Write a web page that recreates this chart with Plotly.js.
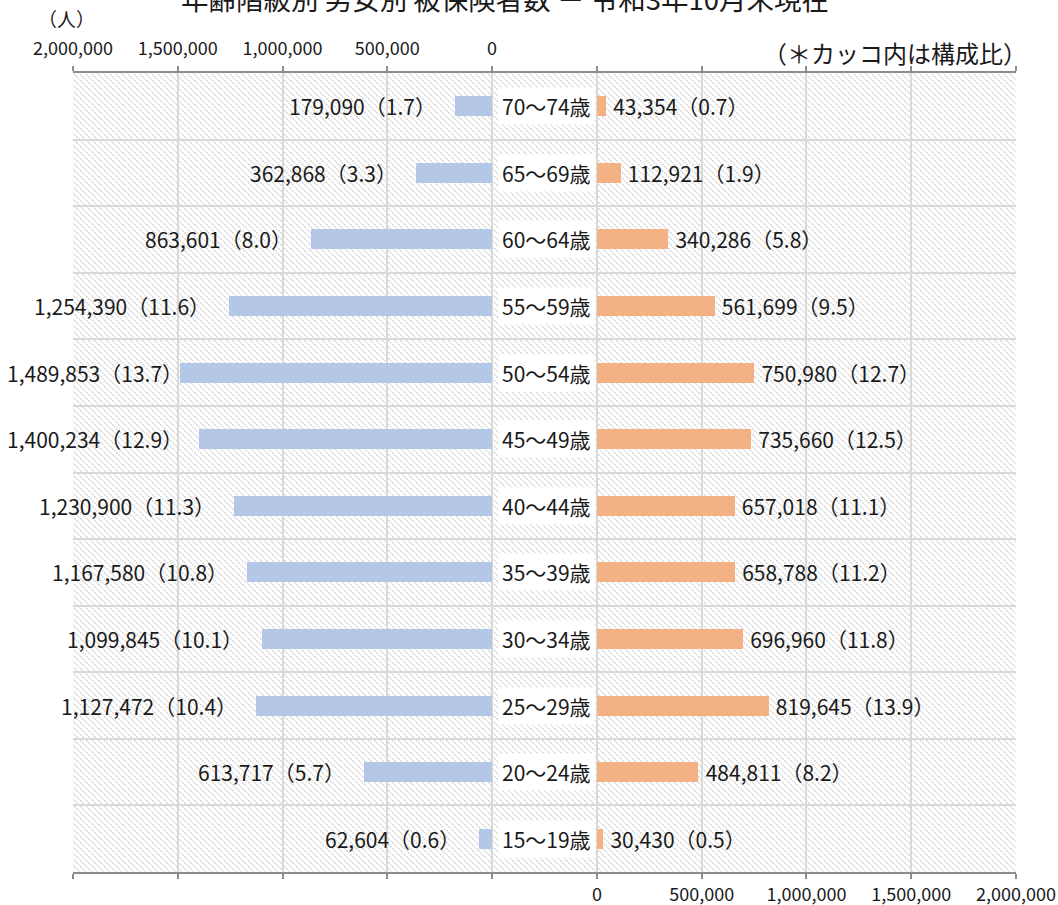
<!DOCTYPE html>
<html>
<head>
<meta charset="utf-8">
<script src="https://cdn.plot.ly/plotly-3.0.1.min.js"></script>
<style>
html,body{margin:0;padding:0;background:#fff;}
#chart{width:1058px;height:905px;}
</style>
</head>
<body>
<div id="chart"></div>
<script>
// Data (bottom to top)
const ageGroups = ["15～19歳","20～24歳","25～29歳","30～34歳","35～39歳","40～44歳","45～49歳","50～54歳","55～59歳","60～64歳","65～69歳","70～74歳"];
const maleCount = [62604, 613717, 1127472, 1099845, 1167580, 1230900, 1400234, 1489853, 1254390, 863601, 362868, 179090];
const malePct = [0.6, 5.7, 10.4, 10.1, 10.8, 11.3, 12.9, 13.7, 11.6, 8.0, 3.3, 1.7];
const femaleCount = [30430, 484811, 819645, 696960, 658788, 657018, 735660, 750980, 561699, 340286, 112921, 43354];
const femalePct = [0.5, 8.2, 13.9, 11.8, 11.2, 11.1, 12.5, 12.7, 9.5, 5.8, 1.9, 0.7];
const leftTickLabels = ["2,000,000","1,500,000","1,000,000","500,000","0"];
const rightTickLabels = ["0","500,000","1,000,000","1,500,000","2,000,000"];

const GAP = 500000; // space between the two halves (label column)
const FONT = '"Noto Sans CJK JP", "Noto Sans", sans-serif';
const LBL = 21;
const fmt = v => v.toLocaleString('en-US');

const W = 943, H = 799, ML = 73, MR = 42, MT = 73, MB = 33;
const XMIN = -2000000, XMAX = 2000000 + GAP;
const px = v => ML + (v - XMIN) / (XMAX - XMIN) * W;

const tickVals = [];
for (let v = XMIN; v <= XMAX; v += 500000) tickVals.push(v);
const topText = tickVals.map((v, i) => i < leftTickLabels.length ? leftTickLabels[i] : '');
const bottomText = tickVals.map((v, i) => i >= leftTickLabels.length ? rightTickLabels[i - leftTickLabels.length] : '');
const yIdx = ageGroups.map((c, i) => i);
const yGrid = [];
for (let i = -0.5; i <= ageGroups.length - 0.5; i += 1) yGrid.push(i);

const male = {
  type: 'bar', orientation: 'h', xaxis: 'x', yaxis: 'y',
  y: yIdx, x: maleCount.map(v => -v), width: 0.3,
  marker: {color: '#b4c7e7'},
  hoverinfo: 'skip', showlegend: false
};
const female = {
  type: 'bar', orientation: 'h', xaxis: 'x2', yaxis: 'y',
  y: yIdx, x: femaleCount, base: GAP, width: 0.3,
  marker: {color: '#f4b183'},
  text: femaleCount.map((v, i) => '\u2009' + fmt(v) + '（' + femalePct[i].toFixed(1) + '）'),
  textposition: 'outside', constraintext: 'none', cliponaxis: false,
  textfont: {family: FONT, size: LBL, color: '#1a1a1a'},
  hoverinfo: 'skip', showlegend: false
};

// hatched background
const svg = `<svg xmlns="http://www.w3.org/2000/svg" width="${W}" height="${H}" viewBox="0 0 ${W} ${H}" preserveAspectRatio="none">` +
  `<defs><pattern id="p" width="6" height="6" patternUnits="userSpaceOnUse">` +
  `<rect width="6" height="6" fill="#ffffff"/>` +
  `<path d="M-1,-1 L7,7 M-1,5 L1,7 M5,-1 L7,1" stroke="#d0d0d0" stroke-width="1.2" stroke-dasharray="2,1"/>` +
  `</pattern></defs><rect width="${W}" height="${H}" fill="url(#p)"/></svg>`;

// male labels, left of bar end; kept inside the page like the original
const ctx = document.createElement('canvas').getContext('2d');
ctx.font = LBL + 'px "Noto Sans CJK JP"';
const annotations = [];
maleCount.forEach((v, i) => {
  const txt = fmt(v) + '（' + malePct[i].toFixed(1) + '）';
  const w = ctx.measureText(txt).width;
  const barEnd = px(-v);
  const naturalLeft = barEnd - 18 - w;
  if (naturalLeft >= 6) {
    annotations.push({xref: 'x', yref: 'y', x: -v, y: i, xanchor: 'right', yanchor: 'middle', xshift: -18,
      text: txt, showarrow: false, borderpad: 0, font: {family: FONT, size: LBL, color: '#1a1a1a'}});
  } else {
    annotations.push({xref: 'paper', yref: 'y', x: (6 - ML) / W, y: i, xanchor: 'left', yanchor: 'middle',
      text: txt, showarrow: false, borderpad: 0, font: {family: FONT, size: LBL, color: '#1a1a1a'}});
  }
});
ageGroups.forEach((c, i) => annotations.push({
  xref: 'x', yref: 'y', x: GAP, y: i, xanchor: 'right', yanchor: 'middle', xshift: -2,
  text: c, showarrow: false, bgcolor: '#ffffff', borderpad: 3,
  font: {family: FONT, size: LBL, color: '#1a1a1a'}
}));
annotations.push({
  xref: 'paper', yref: 'paper', x: (66 - ML) / W, y: 1, yshift: 55, xanchor: 'center', yanchor: 'middle',
  text: '（人）', showarrow: false, font: {family: FONT, size: 19, color: '#1a1a1a'}
});
annotations.push({
  xref: 'paper', yref: 'paper', x: (1029 - ML) / W, y: 1, yshift: 21, xanchor: 'right', yanchor: 'middle',
  text: '（＊カッコ内は構成比）', showarrow: false, font: {family: FONT, size: 24, color: '#1a1a1a'}
});

const axisCommon = {
  range: [XMIN, XMAX], tickmode: 'array', tickvals: tickVals,
  showline: true, linecolor: '#8c8c8c', linewidth: 2,
  ticks: 'outside', ticklen: 5, tickcolor: '#8c8c8c', tickwidth: 2,
  zeroline: false, fixedrange: true,
  tickfont: {family: FONT, size: 18, color: '#1a1a1a'}
};

const layout = {
  width: 1058, height: 905,
  margin: {l: ML, r: MR, t: MT, b: MB},
  paper_bgcolor: '#ffffff', plot_bgcolor: 'rgba(0,0,0,0)',
  title: {
    text: '年齢階級別 男女別 被保険者数 － 令和3年10月末現在',
    xref: 'container', yref: 'container', x: 505 / 1058, y: 1.0, xanchor: 'center', yanchor: 'middle',
    font: {family: FONT, size: 27.5, color: '#1a1a1a'}
  },
  xaxis: Object.assign({}, axisCommon, {
    side: 'top', anchor: 'y', ticktext: topText, ticklabelstandoff: 4,
    showgrid: true, gridcolor: '#d9d9d9', gridwidth: 2
  }),
  xaxis2: Object.assign({}, axisCommon, {
    side: 'bottom', anchor: 'y', overlaying: 'x', matches: 'x', ticktext: bottomText,
    showgrid: false
  }),
  yaxis: {
    range: [-0.5, ageGroups.length - 0.5], tickmode: 'array', tickvals: yGrid,
    showticklabels: false, ticks: '', showgrid: true, gridcolor: '#d9d9d9', gridwidth: 2,
    zeroline: false, showline: false, fixedrange: true
  },
  images: [{
    source: 'data:image/svg+xml;charset=utf-8,' + encodeURIComponent(svg),
    xref: 'paper', yref: 'paper', x: 0, y: 1, sizex: 1, sizey: 1,
    xanchor: 'left', yanchor: 'top', sizing: 'stretch', layer: 'below'
  }],
  annotations: annotations,
  bargap: 0, showlegend: false
};

Plotly.newPlot('chart', [male, female], layout, {displayModeBar: false, staticPlot: true});
</script>
</body>
</html>
